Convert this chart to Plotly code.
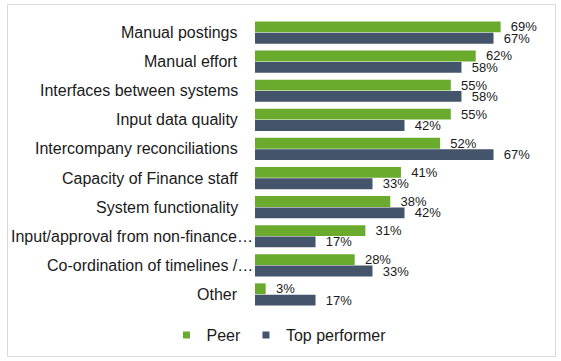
import plotly.graph_objects as go

categories = [
    "Manual postings",
    "Manual effort",
    "Interfaces between systems",
    "Input data quality",
    "Intercompany reconciliations",
    "Capacity of Finance staff",
    "System functionality",
    "Input/approval from non-finance…",
    "Co-ordination of timelines /…",
    "Other",
]
peer = [0.69, 0.62, 0.55, 0.55, 0.52, 0.41, 0.38, 0.31, 0.28, 0.03]
top_performer = [0.67, 0.58, 0.58, 0.42, 0.67, 0.33, 0.42, 0.17, 0.33, 0.17]
series_names = ["Peer", "Top performer"]

GREEN = "#6aab2e"
SLATE = "#44546a"
FONT = "Liberation Sans, Arial, sans-serif"
TXT = "#1a1a1a"

fig = go.Figure()
for name, vals, col in [(series_names[0], peer, GREEN), (series_names[1], top_performer, SLATE)]:
    fig.add_trace(go.Bar(
        y=categories, x=vals, orientation="h", name=name,
        marker=dict(color=col, line=dict(width=0)),
        text=[f"  {round(v*100)}%" for v in vals],
        textposition="outside", cliponaxis=False, constraintext="none",
        textfont=dict(size=13, color=TXT, family=FONT),
        showlegend=False,
    ))
    fig.add_trace(go.Scatter(
        x=[None], y=[None], mode="markers", name=name,
        marker=dict(symbol="square", size=7, color=col),
        showlegend=True,
    ))

W, H = 561, 361
ml, mr, mt, mb = 255, 16, 18, 52
pw = W - ml - mr
ph = H - mt - mb
scale = 356.0  # px per 100%

# category labels as annotations (truncated ones sit further right, as in the source)
annotations = []
for c in categories:
    right_px = 255 if c.endswith("…") else 240
    annotations.append(dict(
        x=(right_px - ml) / pw, xref="paper", xanchor="right",
        y=c, yref="y", yanchor="middle", text=c, showarrow=False,
        font=dict(size=16, color=TXT, family=FONT),
    ))

fig.update_layout(
    width=W, height=H,
    margin=dict(l=ml, r=mr, t=mt, b=mb, autoexpand=False),
    paper_bgcolor="white", plot_bgcolor="white",
    barmode="group", bargap=0.22, bargroupgap=0.04,
    font=dict(family=FONT, size=16, color=TXT),
    xaxis=dict(range=[0, pw / scale], visible=False, showgrid=False, zeroline=False,
               automargin=False),
    yaxis=dict(autorange="reversed", showgrid=False, zeroline=False, automargin=False,
               ticks="", showticklabels=False),
    legend=dict(orientation="h", x=(279 - ml) / pw, xanchor="center",
                y=(mt + ph - 335) / ph, yanchor="middle",
                font=dict(size=16, color=TXT, family=FONT),
                itemwidth=30, tracegroupgap=0, bgcolor="rgba(0,0,0,0)"),
    annotations=annotations,
    shapes=[dict(type="rect", xref="paper", yref="paper",
                 x0=(7.5 - ml) / pw, x1=(555.5 - ml) / pw,
                 y0=(mt + ph - 356.5) / ph, y1=(mt + ph - 4.5) / ph,
                 line=dict(color="#d9d9d9", width=1), fillcolor="rgba(0,0,0,0)", layer="above")],
)

fig.write_html(
    "out.html",
    config={"displayModeBar": False},
    post_script="document.body.style.margin='0';document.body.style.overflow='hidden';",
)
